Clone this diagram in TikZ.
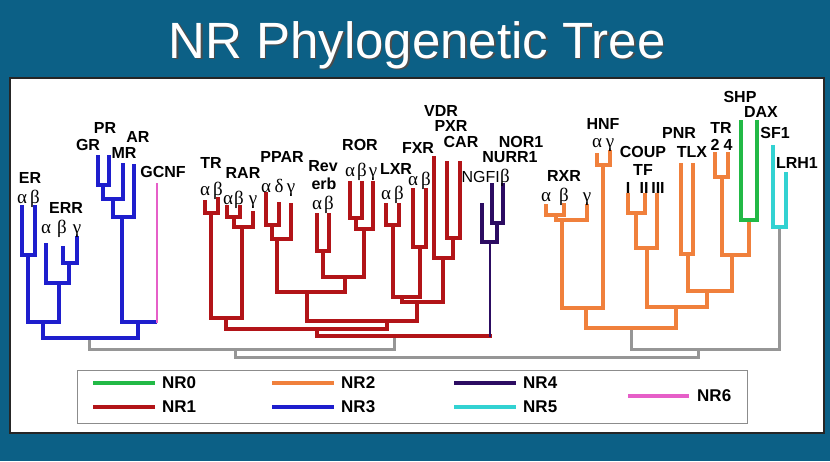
\documentclass[tikz,border=0pt]{standalone}
\usepackage{fontspec}
\setmainfont{Liberation Sans}
\newfontfamily\lsans{Liberation Sans}
\newfontfamily\lserif{Liberation Serif}
\definecolor{bgblue}{RGB}{12,96,134}
\definecolor{cNRzero}{RGB}{34,185,70}
\definecolor{cNRone}{RGB}{178,20,24}
\definecolor{cNRtwo}{RGB}{240,128,60}
\definecolor{cNRthree}{RGB}{30,30,205}
\definecolor{cNRfour}{RGB}{44,12,98}
\definecolor{cNRfive}{RGB}{50,210,210}
\definecolor{cNRsix}{RGB}{230,95,200}
\definecolor{cgray}{RGB}{150,150,150}
\tikzset{
  br/.style={line width=3.2pt, line cap=rect, line join=miter},
  lb/.style={font=\lsans\bfseries\fontsize{16}{16}\selectfont, inner sep=0pt, text=black},
  lbr/.style={font=\lsans\fontsize{16}{16}\selectfont, inner sep=0pt, text=black},
  gk/.style={font=\lserif\fontsize{19}{19}\selectfont, inner sep=0pt, anchor=base, text=black},
  leg/.style={line width=4pt},
  legt/.style={font=\lsans\bfseries\fontsize{17}{17}\selectfont, inner sep=0pt, anchor=west}
}
\begin{document}
\begin{tikzpicture}[x=1pt,y=-1pt]
\useasboundingbox (0,0) rectangle (830,461);
\fill[bgblue] (0,0) rectangle (830,461);
\node[font=\lsans\fontsize{51}{51}\selectfont, text=black!70, anchor=base] (titleshadow) at (418.5,59.5) {NR Phylogenetic Tree};
\node[font=\lsans\fontsize{51}{51}\selectfont, text=white, anchor=base] (title) at (417,58) {NR Phylogenetic Tree};
\draw[fill=white, draw=black!85, line width=1.2pt] (10,78) rectangle (824,433);

% ---------- grey backbone ----------
\draw[br, cgray, line width=3pt] (89,338) -- (89,349) -- (394,349) -- (394,336);
\draw[br, cgray, line width=3pt] (235,349) -- (235,357) -- (698,357) -- (698,349);
\draw[br, cgray, line width=3pt] (631,328) -- (631,349) -- (779,349) -- (779,227);

% ---------- NR3 (blue) ----------
\begin{scope}[br, cNRthree]
\draw (22,207) -- (22,255) -- (35,255) -- (35,207);
\draw (28,255) -- (28,322);
\draw (63,248) -- (63,263) -- (77,263) -- (77,238);
\draw (69,263) -- (69,283);
\draw (46,245) -- (46,283) -- (69,283);
\draw (59,283) -- (59,322);
\draw (28,322) -- (59,322);
\draw (43,322) -- (43,338) -- (138,338) -- (138,322);
\draw (98,157) -- (98,185) -- (109,185) -- (109,157);
\draw (103,185) -- (103,199) -- (123,199) -- (123,165);
\draw (113,199) -- (113,217) -- (134,217) -- (134,166);
\draw (122,217) -- (122,322) -- (155,322);
\end{scope}
\draw[cNRsix, line width=2.2pt] (157,183) -- (157,323);

% ---------- NR1 (red) ----------
\begin{scope}[br, cNRone]
\draw (205,202) -- (205,213) -- (218,213) -- (218,199);
\draw (211,213) -- (211,318);
\draw (227,207) -- (227,217) -- (240,217) -- (240,207);
\draw (234,217) -- (234,227) -- (253,227) -- (253,213);
\draw (242,227) -- (242,318);
\draw (211,318) -- (242,318);
\draw (226,318) -- (226,329);
\draw (266,194) -- (266,225) -- (279,225) -- (279,204);
\draw (272,225) -- (272,239) -- (291,239) -- (291,205);
\draw (277,239) -- (277,292);
\draw (317,215) -- (317,251) -- (329,251) -- (329,215);
\draw (323,251) -- (323,277);
\draw (350,183) -- (350,218) -- (362,218) -- (362,183);
\draw (356,218) -- (356,229) -- (373,229) -- (373,183);
\draw (364,229) -- (364,277);
\draw (323,277) -- (364,277);
\draw (345,277) -- (345,292);
\draw (277,292) -- (345,292);
\draw (307,292) -- (307,321);
\draw (386,205) -- (386,225) -- (399,225) -- (399,205);
\draw (393,225) -- (393,297);
\draw (413,190) -- (413,247) -- (426,247) -- (426,190);
\draw (420,247) -- (420,297);
\draw (393,297) -- (420,297);
\draw (402,297) -- (402,302);
\draw (447,163) -- (447,238) -- (460,238) -- (460,163);
\draw (453,238) -- (453,258);
\draw (434,158) -- (434,258) -- (453,258);
\draw (443,258) -- (443,302);
\draw (402,302) -- (443,302);
\draw (417,302) -- (417,321);
\draw (307,321) -- (417,321);
\draw (387,321) -- (387,329);
\draw (226,329) -- (387,329);
\draw (317,329) -- (317,336) -- (490,336);
\end{scope}

% ---------- NR4 (navy) ----------
\begin{scope}[br, cNRfour]
\draw (492,185) -- (492,223) -- (503,223) -- (503,185);
\draw (497,223) -- (497,242);
\draw (482,205) -- (482,242) -- (497,242);
\end{scope}
\draw[cNRfour, line width=1.8pt] (490,242) -- (490,337);

% ---------- NR2 (orange) ----------
\begin{scope}[br, cNRtwo]
\draw (546,206) -- (546,215) -- (564,215) -- (564,205);
\draw (556,215) -- (556,220) -- (587,220) -- (587,206);
\draw (562,220) -- (562,308);
\draw (597,155) -- (597,165) -- (610,165) -- (610,152);
\draw (603,165) -- (603,308);
\draw (562,308) -- (603,308);
\draw (586,308) -- (586,328);
\draw (628,195) -- (628,213) -- (645,213) -- (645,195);
\draw (636,213) -- (636,248) -- (657,248) -- (657,195);
\draw (647,248) -- (647,307);
\draw (681,165) -- (681,254) -- (693,254) -- (693,165);
\draw (688,254) -- (688,291);
\draw (715,154) -- (715,177) -- (728,177) -- (728,154);
\draw (722,177) -- (722,255);
\draw (749,221) -- (749,255);
\draw (722,255) -- (749,255);
\draw (732,255) -- (732,291);
\draw (688,291) -- (732,291);
\draw (707,291) -- (707,307);
\draw (647,307) -- (707,307);
\draw (676,307) -- (676,328);
\draw (586,328) -- (676,328);
\end{scope}

% ---------- NR0 (green) ----------
\draw[br, cNRzero] (741,122) -- (741,220) -- (757,220) -- (757,122);
% ---------- NR5 (cyan) ----------
\draw[br, cNRfive] (773,147) -- (773,227) -- (786,227) -- (786,174);

% ---------- labels: NR3 / NR6 ----------
\node[lb] (ER) at (30,178) {ER};
\node[gk] (ERa) at (22,203) {α};
\node[gk] (ERb) at (35,203) {β};
\node[lb] (ERR) at (66,208) {ERR};
\node[gk] (ERRa) at (46,233) {α};
\node[gk] (ERRb) at (62,233) {β};
\node[gk] (ERRg) at (77,233) {γ};
\node[lb] (PR) at (105,128) {PR};
\node[lb] (GR) at (88,145) {GR};
\node[lb] (AR) at (138,137) {AR};
\node[lb] (MR) at (124,153) {MR};
\node[lb] (GCNF) at (163,172) {GCNF};

% ---------- labels: NR1 ----------
\node[lb] (TR) at (211,163) {TR};
\node[gk] (TRa) at (205,195) {α};
\node[gk] (TRb) at (218,195) {β};
\node[lb] (RAR) at (243,173) {RAR};
\node[gk] (RARa) at (228,204) {α};
\node[gk] (RARb) at (239,204) {β};
\node[gk] (RARg) at (253,204) {γ};
\node[lb] (PPAR) at (282,157) {PPAR};
\node[gk] (PPARa) at (266,192) {α};
\node[gk] (PPARd) at (279,192) {δ};
\node[gk] (PPARg) at (291,192) {γ};
\node[lb] (Rev) at (323,166) {Rev};
\node[lb] (erb) at (324,184) {erb};
\node[gk] (Reva) at (317,209) {α};
\node[gk] (Revb) at (329,209) {β};
\node[lb] (ROR) at (360,145) {ROR};
\node[gk] (RORa) at (350,176) {α};
\node[gk] (RORb) at (362,176) {β};
\node[gk] (RORg) at (373,176) {γ};
\node[lb] (LXR) at (396,169) {LXR};
\node[gk] (LXRa) at (386,199) {α};
\node[gk] (LXRb) at (399,199) {β};
\node[lb] (FXR) at (418,148) {FXR};
\node[gk] (FXRa) at (413,185) {α};
\node[gk] (FXRb) at (426,185) {β};
\node[lb] (VDR) at (441,111) {VDR};
\node[lb] (PXR) at (451,126) {PXR};
\node[lb] (CAR) at (461,142) {CAR};

% ---------- labels: NR4 ----------
\node[lb] (NOR1) at (521,142) {NOR1};
\node[lb] (NURR1) at (510,157) {NURR1};
\node[lbr, anchor=base east] (NGFI) at (500,182) {NGFI};
\node[gk, anchor=base west] (NGFIb) at (NGFI.base east) {β};

% ---------- labels: NR2 / NR0 / NR5 ----------
\node[lb] (RXR) at (564,176) {RXR};
\node[gk] (RXRa) at (546,201) {α};
\node[gk] (RXRb) at (564,201) {β};
\node[gk] (RXRg) at (587,201) {γ};
\node[lb] (HNF) at (603,124) {HNF};
\node[gk] (HNFa) at (597,147) {α};
\node[gk] (HNFg) at (610,147) {γ};
\node[lb] (COUP) at (643,152) {COUP};
\node[lb] (TF) at (643,170) {TF};
\node[lb] (CI) at (628,188) {I};
\node[lb] (CII) at (644,188) {II};
\node[lb] (CIII) at (658,188) {III};
\node[lb] (PNR) at (679,133) {PNR};
\node[lb] (TLX) at (692,152) {TLX};
\node[lb] (TRtwo) at (721,128) {TR};
\node[lb] (Ttwo) at (715,145) {2};
\node[lb] (Tfour) at (728,145) {4};
\node[lb] (SHP) at (740,97) {SHP};
\node[lb] (DAX) at (761,112) {DAX};
\node[lb] (SFone) at (775,133) {SF1};
\node[lb] (LRHone) at (797,163) {LRH1};

% ---------- legend ----------
\draw[black!45, line width=1pt, fill=white] (77,370) rectangle (747,423);
\coordinate (l0a) at (93,383);  \coordinate (l0b) at (155,383);
\coordinate (l1a) at (93,407);  \coordinate (l1b) at (155,407);
\coordinate (l2a) at (272,383); \coordinate (l2b) at (334,383);
\coordinate (l3a) at (272,407); \coordinate (l3b) at (334,407);
\coordinate (l4a) at (454,383); \coordinate (l4b) at (516,383);
\coordinate (l5a) at (454,407); \coordinate (l5b) at (516,407);
\coordinate (l6a) at (628,396); \coordinate (l6b) at (689,396);
\draw[leg, cNRzero] (l0a) -- (l0b);
\draw[leg, cNRone] (l1a) -- (l1b);
\draw[leg, cNRtwo] (l2a) -- (l2b);
\draw[leg, cNRthree] (l3a) -- (l3b);
\draw[leg, cNRfour] (l4a) -- (l4b);
\draw[leg, cNRfive] (l5a) -- (l5b);
\draw[leg, cNRsix] (l6a) -- (l6b);
\node[legt] (t0) at (162,383) {NR0};
\node[legt] (t1) at (162,407) {NR1};
\node[legt] (t2) at (341,383) {NR2};
\node[legt] (t3) at (341,407) {NR3};
\node[legt] (t4) at (523,383) {NR4};
\node[legt] (t5) at (523,407) {NR5};
\node[legt] (t6) at (697,396) {NR6};
\end{tikzpicture}
\end{document}
